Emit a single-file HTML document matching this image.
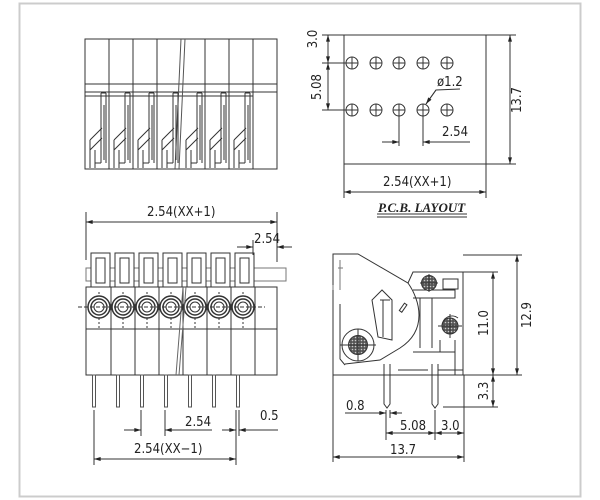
<!DOCTYPE html>
<html><head><meta charset="utf-8"><style>
html,body{margin:0;padding:0;background:#fff;}
svg{display:block;}
text{font-family:"DejaVu Sans Condensed","Liberation Sans",sans-serif;font-size:13px;fill:#222;}
</style></head><body>
<svg width="600" height="500" viewBox="0 0 600 500" xmlns="http://www.w3.org/2000/svg">
<defs>
<marker id="a" viewBox="0 0 10 6" refX="10" refY="3" markerWidth="8" markerHeight="4" orient="auto-start-reverse"><path d="M0,0 L10,3 L0,6z" fill="#222"/></marker>
<pattern id="h" width="3" height="3" patternUnits="userSpaceOnUse"><rect width="3" height="3" fill="#555"/><circle cx="1.5" cy="1.5" r="0.8" fill="#ccc"/></pattern>
</defs>
<rect x="19.5" y="3.5" width="561" height="493" fill="none" stroke="#ccc" stroke-width="2"/>
<g stroke="#333" stroke-width="1" fill="none">
<!-- TOP LEFT VIEW -->
<rect x="85" y="39" width="192" height="130"/>
<line x1="85" y1="84" x2="277" y2="84"/><line x1="85" y1="92" x2="277" y2="92"/><line x1="85" y1="96" x2="253" y2="96"/>
<line x1="109" y1="39" x2="109" y2="169"/><line x1="133" y1="39" x2="133" y2="169"/><line x1="157" y1="39" x2="157" y2="169"/>
<line x1="205" y1="39" x2="205" y2="169"/><line x1="229" y1="39" x2="229" y2="169"/><line x1="253" y1="39" x2="253" y2="169"/>
<path d="M181,39 L175,169 M185,39 L179,169" stroke="#555"/>
<g id="lv">
<path d="M101,93 v70 M106,93 v70 M101,93 h5 M104,105 v55 M90,140 l12,-12 M90,150 l12,-12 M90,140 v28 M95,150 v18 M95,163 h6"/>
</g>
<use href="#lv" x="24"/><use href="#lv" x="48"/><use href="#lv" x="72"/><use href="#lv" x="96"/><use href="#lv" x="120"/><use href="#lv" x="144"/>
<!-- TOP RIGHT PCB -->
<rect x="344" y="35" width="142" height="129"/>
<g id="hl"><circle cx="352" cy="63" r="6"/><path d="M346,63h12M352,57v12"/></g>
<use href="#hl" x="24"/><use href="#hl" x="47"/><use href="#hl" x="71"/><use href="#hl" x="95"/>
<use href="#hl" y="47"/><use href="#hl" x="24" y="47"/><use href="#hl" x="47" y="47"/><use href="#hl" x="71" y="47"/><use href="#hl" x="95" y="47"/>
<line x1="322" y1="35" x2="344" y2="35"/><line x1="322" y1="63" x2="346" y2="63"/><line x1="322" y1="110" x2="346" y2="110"/>
<line x1="328" y1="35" x2="328" y2="63" marker-start="url(#a)" marker-end="url(#a)"/>
<line x1="328" y1="63" x2="328" y2="110" marker-start="url(#a)" marker-end="url(#a)"/>
<line x1="486" y1="35" x2="516" y2="35"/><line x1="486" y1="164" x2="516" y2="164"/>
<line x1="510" y1="35" x2="510" y2="164" marker-start="url(#a)" marker-end="url(#a)"/>
<line x1="399" y1="116" x2="399" y2="146"/><line x1="423" y1="116" x2="423" y2="146"/>
<line x1="382" y1="142" x2="399" y2="142" marker-end="url(#a)"/><line x1="470" y1="142" x2="423" y2="142" marker-end="url(#a)"/>
<path d="M426,104 L436,90 L460,89" /><line x1="436" y1="90" x2="426" y2="104" marker-end="url(#a)"/>
<line x1="344" y1="164" x2="344" y2="198"/><line x1="486" y1="164" x2="486" y2="198"/>
<line x1="344" y1="192" x2="486" y2="192" marker-start="url(#a)" marker-end="url(#a)"/>
<line x1="377" y1="214" x2="467" y2="214"/><line x1="377" y1="217" x2="467" y2="217"/>
<!-- BOTTOM LEFT -->
<rect x="86" y="287" width="191" height="88"/>
<line x1="86" y1="329" x2="277" y2="329"/>
<rect x="86" y="268" width="200" height="13" stroke="#777"/>
<g id="bl">
<rect x="91" y="253" width="19" height="34" fill="#fff"/><rect x="96" y="258" width="9" height="25"/>
<circle cx="99" cy="307" r="11" fill="#fff" stroke-width="1.5"/><circle cx="99" cy="307" r="8" stroke-width="1.5"/><circle cx="99" cy="307" r="5"/>
<line x1="111" y1="287" x2="111" y2="375"/>
<rect x="92.5" y="375" width="3" height="32" stroke="#555"/>
<path d="M99,318 v12 M99,292 v4" stroke-dasharray="2,2"/>
</g>
<use href="#bl" x="24"/><use href="#bl" x="48"/><use href="#bl" x="72"/><use href="#bl" x="96"/><use href="#bl" x="120"/><use href="#bl" x="144"/>
<path d="M183,287 L176,375 M186,287 L179,375" stroke="#666"/>
<line x1="78" y1="307" x2="265" y2="307" stroke-dasharray="4,2"/>
<line x1="86" y1="212" x2="86" y2="260"/><line x1="277" y1="212" x2="277" y2="262"/>
<line x1="86" y1="222" x2="277" y2="222" marker-start="url(#a)" marker-end="url(#a)"/>
<line x1="253" y1="240" x2="253" y2="255"/>
<line x1="237" y1="247" x2="253" y2="247" marker-end="url(#a)"/><line x1="292" y1="247" x2="277" y2="247" marker-end="url(#a)"/>
<line x1="94" y1="410" x2="94" y2="465"/><line x1="141" y1="410" x2="141" y2="436"/><line x1="165" y1="410" x2="165" y2="436"/>
<line x1="236" y1="410" x2="236" y2="465"/><line x1="239" y1="410" x2="239" y2="436"/>
<line x1="124" y1="430" x2="141" y2="430" marker-end="url(#a)"/><line x1="212" y1="430" x2="165" y2="430" marker-end="url(#a)"/>
<line x1="222" y1="430" x2="236" y2="430" marker-end="url(#a)"/><line x1="278" y1="430" x2="239" y2="430" marker-end="url(#a)"/>
<line x1="94" y1="459" x2="236" y2="459" marker-start="url(#a)" marker-end="url(#a)"/>
<!-- BOTTOM RIGHT -->
<path d="M333,254 L358,254 L408,283 L413,272 L463,272 L463,375 L333,375 Z"/>
<path d="M408,283 C420,300 428,330 400,348 L380,360 L345,364 M340,304 v55 L345,365"/>
<path d="M382,290 L372,300 L378,337 L392,340 L392,300 Z M380,300 L390,300 M383,300 v37"/>
<rect x="402" y="303" width="3" height="9" transform="rotate(35 403 307)"/>
<path d="M413,290 L455,290 L455,298 L413,298 M420,298 v50 M432,298 v50 M413,352 L455,352 M455,340 v35 M440,340 v12"/>
<rect x="443" y="279" width="15" height="10"/>
<circle cx="358" cy="345" r="16"/><circle cx="358" cy="345" r="9.5" fill="url(#h)"/>
<circle cx="429" cy="283" r="7.5" fill="url(#h)"/>
<circle cx="450" cy="326" r="8" fill="url(#h)"/><path d="M442,326 a10,10 0 0 1 16,-8"/>
<path d="M340,345 h36 M358,329 v32 M420,283 h18 M429,274 v18 M438,326 h24 M450,314 v24"/>
<path d="M340,260 v30 M333,285 v5 M338,268 h5" stroke="#777"/>
<path d="M384,364 v40 l3,4 l3,-4 v-40 M432,364 v40 l3,4 l3,-4 v-40"/>
<path d="M398,370 h30 M438,370 h25"/>
<line x1="463" y1="255" x2="522" y2="255"/><line x1="463" y1="272" x2="498" y2="272"/><line x1="463" y1="375" x2="522" y2="375"/><line x1="443" y1="407" x2="498" y2="407"/>
<line x1="517" y1="255" x2="517" y2="375" marker-start="url(#a)" marker-end="url(#a)"/>
<line x1="493" y1="272" x2="493" y2="375" marker-start="url(#a)" marker-end="url(#a)"/>
<line x1="493" y1="375" x2="493" y2="407" marker-start="url(#a)" marker-end="url(#a)"/>
<line x1="386" y1="410" x2="386" y2="440"/><line x1="390" y1="410" x2="390" y2="418"/><line x1="435" y1="410" x2="435" y2="440"/>
<line x1="333" y1="375" x2="333" y2="462"/><line x1="464" y1="375" x2="464" y2="462"/>
<line x1="345" y1="413" x2="386" y2="413" marker-end="url(#a)"/><line x1="402" y1="413" x2="390" y2="413" marker-end="url(#a)"/>
<line x1="386" y1="433" x2="435" y2="433" marker-start="url(#a)" marker-end="url(#a)"/>
<line x1="435" y1="433" x2="464" y2="433" marker-start="url(#a)" marker-end="url(#a)"/>
<line x1="333" y1="457" x2="464" y2="457" marker-start="url(#a)" marker-end="url(#a)"/>
</g>
<text x="383" y="186">2.54(XX+1)</text>
<text x="328" y="48" transform="rotate(-90 318 49)" text-anchor="middle">3.0</text>
<text x="318" y="90" transform="rotate(-90 318 87)" text-anchor="middle">5.08</text>
<text x="521" y="100" transform="rotate(-90 521 100)" text-anchor="middle">13.7</text>
<text x="442" y="136">2.54</text>
<text x="437" y="86">ø1.2</text>
<text x="378" y="212" style="font-family:'Liberation Serif',serif;font-weight:bold;font-style:italic;font-size:13px">P.C.B.  LAYOUT</text>
<text x="147" y="216">2.54(XX+1)</text>
<text x="254" y="243">2.54</text>
<text x="185" y="426">2.54</text>
<text x="260" y="420">0.5</text>
<text x="134" y="453">2.54(XX−1)</text>
<text x="346" y="410">0.8</text>
<text x="400" y="430">5.08</text>
<text x="441" y="430">3.0</text>
<text x="390" y="454">13.7</text>
<text x="531" y="315" transform="rotate(-90 531 315)" text-anchor="middle">12.9</text>
<text x="488" y="323" transform="rotate(-90 488 323)" text-anchor="middle">11.0</text>
<text x="488" y="391" transform="rotate(-90 488 391)" text-anchor="middle">3.3</text>
</svg>
</body></html>
